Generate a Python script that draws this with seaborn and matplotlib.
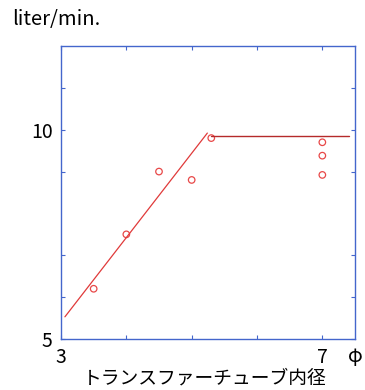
import matplotlib
matplotlib.use("Agg")
import matplotlib.pyplot as plt
import seaborn as sns
import pandas as pd

# data
diam = [3.5, 4.0, 4.5, 5.0, 5.3, 7.0, 7.0, 7.0]
flow = [6.2, 7.5, 9.0, 8.8, 9.8, 9.7, 9.38, 8.92]
slope_x = [3.06, 5.24]
slope_y = [5.53, 9.92]
flat_x = [5.3, 7.41]
flat_y = [9.84, 9.84]
xtick_vals = [3, 4, 5, 6, 7]
xtick_labels = ["3", "", "", "", "7"]
ytick_vals = [5, 6, 7, 9, 10, 11]
ytick_labels = ["5", "", "", "", "10", ""]

sns.set_style("white")
plt.rcParams['font.family'] = ['Noto Sans CJK JP', 'DejaVu Sans']
plt.rcParams['text.color'] = 'black'
plt.rcParams['xtick.color'] = 'black'
plt.rcParams['ytick.color'] = 'black'

fig = plt.figure(figsize=(3.65, 3.9), dpi=100)
ax = fig.add_axes([61/365, 1-339/390, 294/365, 293/390])

pts = pd.DataFrame({"d": diam, "f": flow})
sns.lineplot(x=slope_x, y=slope_y, ax=ax, color="#e03a3a", linewidth=0.9)
sns.lineplot(x=flat_x, y=flat_y, ax=ax, color="#b52a2a", linewidth=1.0)
sns.scatterplot(data=pts, x="d", y="f", ax=ax, marker="o", s=22,
                facecolors="none", edgecolor="#e84848", linewidth=0.9)

ax.set_xlim(3, 7.5)
ax.set_ylim(5, 12)
ax.set_xticks(xtick_vals)
ax.set_xticklabels(xtick_labels)
ax.set_yticks(ytick_vals)
ax.set_yticklabels(ytick_labels)
ax.tick_params(direction="in", length=3, width=0.8, color="#4466cc",
               labelcolor="black",
               top=True, right=True, bottom=True, left=True, labelsize=14, pad=6)
for s in ax.spines.values():
    s.set_color("#4466cc")
    s.set_linewidth(1.0)
ax.set_xlabel("")
ax.set_ylabel("")

fig.text(355/365, 1-356/390, "φ", ha="center", va="center", fontsize=14, color="black")
fig.text(12/365, 1-20/390, "liter/min.", ha="left", va="center", fontsize=14.5,
         color="black")
fig.text(205/365, 1-378/390, "トランスファーチューブ内径", ha="center", va="center",
         fontsize=13.5, color="black")

fig.savefig("out.png", dpi=100)
